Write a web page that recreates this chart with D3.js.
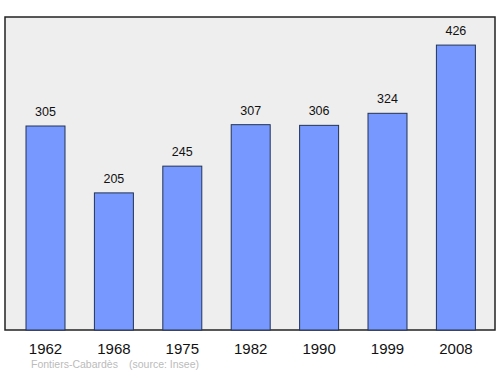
<!DOCTYPE html>
<html>
<head>
<meta charset="utf-8">
<script src="https://cdn.jsdelivr.net/npm/d3@7"></script>
<style>
body{margin:0;background:#fff;}
text{font-family:"Liberation Sans",Arial,sans-serif;}
</style>
</head>
<body>
<div id="chart"></div>
<script>
var years = ["1962","1968","1975","1982","1990","1999","2008"];
var population = [305,205,245,307,306,324,426];
var commune = "Fontiers-Cabardès";
var source = "(source: Insee)";

var width = 500, height = 374;
var frame = {left:5, top:17, right:495, bottom:330};

var svg = d3.select("#chart").append("svg")
    .attr("width", width)
    .attr("height", height);

svg.append("rect")
    .attr("x", frame.left)
    .attr("y", frame.top)
    .attr("width", frame.right - frame.left)
    .attr("height", frame.bottom - frame.top)
    .attr("fill", "#eeeeee")
    .attr("stroke", "#222")
    .attr("stroke-width", 1.5);

var x = d3.scaleBand()
    .domain(years)
    .range([11.3, 490.1])
    .paddingInner(0.43)
    .paddingOuter(0.215);

var y = d3.scaleLinear()
    .domain([0, 468])
    .range([frame.bottom, frame.top]);

svg.selectAll(".bar")
    .data(years)
    .enter().append("rect")
    .attr("class", "bar")
    .attr("x", d => x(d))
    .attr("y", (d,i) => y(population[i]))
    .attr("width", x.bandwidth())
    .attr("height", (d,i) => frame.bottom - y(population[i]))
    .attr("fill", "#7799ff")
    .attr("stroke", "#223355")
    .attr("stroke-width", 1);

svg.selectAll(".val")
    .data(years)
    .enter().append("text")
    .attr("class", "val")
    .attr("x", d => x(d) + x.bandwidth()/2)
    .attr("y", (d,i) => y(population[i]) - 10)
    .attr("text-anchor", "middle")
    .attr("font-size", 12.5)
    .attr("fill", "#111")
    .text((d,i) => population[i]);

svg.selectAll(".yr")
    .data(years)
    .enter().append("text")
    .attr("class", "yr")
    .attr("x", d => x(d) + x.bandwidth()/2)
    .attr("y", 354)
    .attr("text-anchor", "middle")
    .attr("font-size", 15)
    .attr("fill", "#111")
    .text(d => d);

svg.append("text")
    .attr("x", 31)
    .attr("y", 368)
    .attr("font-size", 10.5)
    .attr("fill", "#bbbbbb")
    .text(commune);

svg.append("text")
    .attr("x", 129)
    .attr("y", 368)
    .attr("font-size", 10.5)
    .attr("fill", "#bbbbbb")
    .text(source);
</script>
</body>
</html>
